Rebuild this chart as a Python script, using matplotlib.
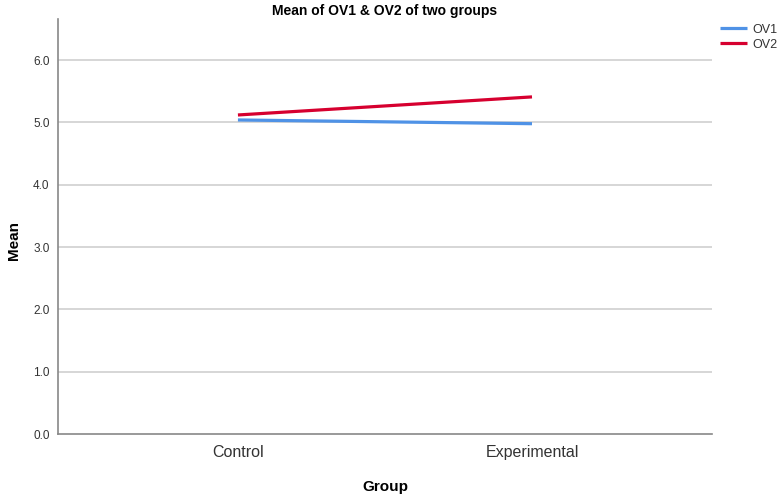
import numpy as np
import matplotlib
matplotlib.use('Agg')
import matplotlib.pyplot as plt

groups = ['Control', 'Experimental']
ov1 = [5.04, 4.98]
ov2 = [5.12, 5.41]
yticks = [0.0, 1.0, 2.0, 3.0, 4.0, 5.0, 6.0]

plt.rcParams['font.family'] = ['Liberation Sans', 'DejaVu Sans']

fig = plt.figure(figsize=(7.77, 4.95), dpi=100)
ax = fig.add_axes([0.0746, 0.1232, 0.8417, 0.8384])

x = np.arange(len(groups))
ax.plot(x, ov1, color='#4f92e6', linewidth=2.3, label='OV1', solid_capstyle='butt')
ax.plot(x, ov2, color='#d6002f', linewidth=2.3, label='OV2', solid_capstyle='butt')

ax.set_xlim(-0.612, 1.612)
ax.set_ylim(0, 6.66)
ax.set_xticks(x)
ax.set_xticklabels(groups, fontsize=11.5, color='#333333')
ax.set_yticks(yticks)
ax.set_yticklabels([f'{v:.1f}' for v in yticks], fontsize=8.5, color='#333333')
ax.tick_params(axis='both', length=0)
ax.tick_params(axis='x', pad=8)
ax.tick_params(axis='y', pad=6)

# light horizontal grid lines
for v in yticks[1:]:
    ax.axhline(v, color='#d0d0d0', linewidth=1.2, zorder=0)

for s in ['top', 'right']:
    ax.spines[s].set_visible(False)
for s in ['left', 'bottom']:
    ax.spines[s].set_color('#888888')
    ax.spines[s].set_linewidth(1.2)

ax.set_xlabel('Group', fontsize=11, fontweight='bold', labelpad=14)
fig.text(0.018, 0.515, 'Mean', rotation=90, ha='center', va='center',
         fontsize=11, fontweight='bold')
fig.text(0.4955, 0.978, 'Mean of OV1 & OV2 of two groups', ha='center', va='center',
         fontsize=10, fontweight='bold')

ax.legend(loc='upper left', bbox_to_anchor=(0.912, 0.975), bbox_transform=fig.transFigure,
          frameon=False, fontsize=9, handlelength=2.2, handletextpad=0.4,
          labelspacing=0.25, labelcolor='#333333')

fig.savefig('out.png', dpi=100)
